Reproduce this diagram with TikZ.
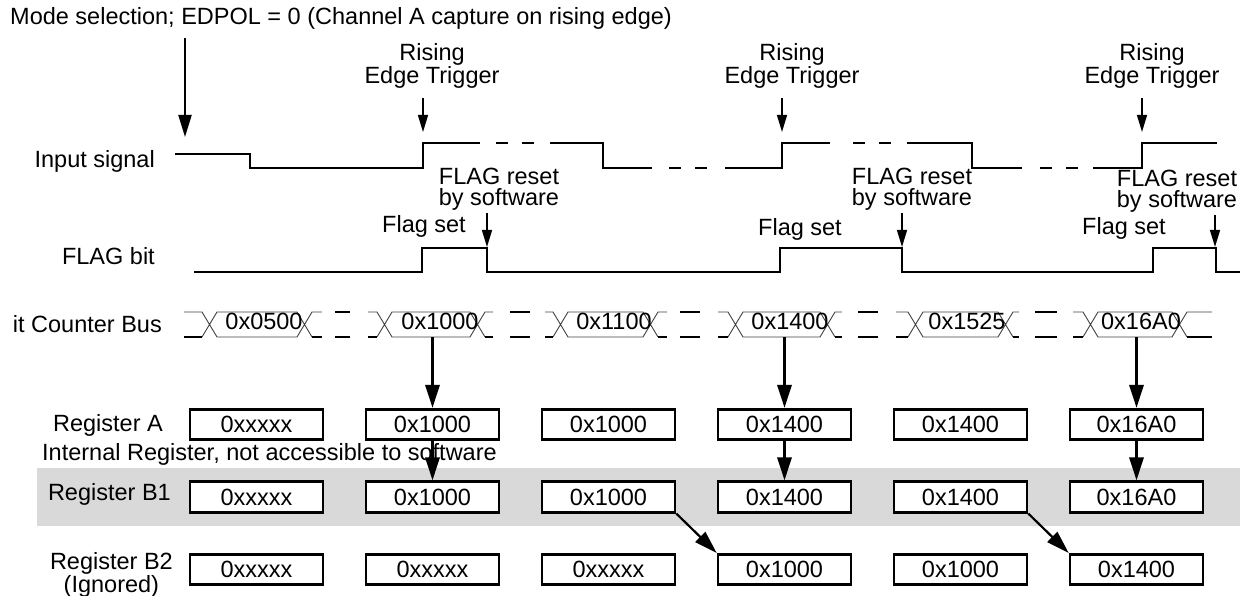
\documentclass[tikz,border=0pt]{standalone}
\usepackage{fontspec}
\setmainfont{Liberation Sans}
\usetikzlibrary{arrows.meta}
\tikzset{
  sig/.style={line width=2.8pt},
  lbl/.style={inner sep=0pt, font=\fontsize{23.5}{19}\selectfont},
  regbox/.style={lbl, draw, fill=white, line width=2.6pt, minimum width=133pt, minimum height=30.5pt},
  busline/.style={line width=0.9pt, black!75},
  busthick/.style={line width=2.6pt},
  thinarrow/.style={-{Triangle[length=17pt,width=10pt]}, line width=1.4pt},
  modearrow/.style={-{Triangle[length=22pt,width=13pt]}, line width=2pt},
  bigarrow/.style={-{Triangle[length=23pt,width=14pt]}, line width=3pt},
}

\begin{document}
\begin{tikzpicture}[x=1pt, y=-1pt]
\useasboundingbox (0,0) rectangle (1243,596);
% shaded band behind register B1
\fill[black!15] (37,468) rectangle (1240,526);

% row labels
\node[lbl, anchor=base west] (mode) at (10,25) {Mode selection; EDPOL = 0 (Channel A capture on rising edge)};
\node[lbl, anchor=base east] (lblin) at (155,168) {Input signal};
\node[lbl, anchor=base east] (lblflag) at (155,265) {FLAG bit};
\node[lbl, anchor=base east] (lblbus) at (162,332) {it Counter Bus};
\node[lbl, anchor=base east] (lblA) at (163,431) {Register A};
\node[lbl, anchor=base west] (lblint) at (42,460) {Internal Register, not accessible to software};
\node[lbl, anchor=base east] (lblB1) at (171,500) {Register B1};
\node[lbl, align=center, anchor=north east, font=\fontsize{23.5}{17.5}\selectfont] (lblB2) at (173,552) {Register B2\\(Ignored)};

% input signal
\draw[sig] (175,154) -- (250,154) -- (250,168) -- (423,168) -- (423,143) -- (480,143);
\draw[sig, dash pattern=on 12pt off 14pt] (496,143) -- (534,143);
\draw[sig] (550,143) -- (603,143) -- (603,168) -- (652,168);
\draw[sig, dash pattern=on 12pt off 14pt] (669,168) -- (707,168);
\draw[sig] (725,168) -- (782,168) -- (782,143) -- (830,143);
\draw[sig, dash pattern=on 12pt off 14pt] (853,143) -- (891,143);
\draw[sig] (907,143) -- (972,143) -- (972,168) -- (1022,168);
\draw[sig, dash pattern=on 12pt off 14pt] (1040,168) -- (1078,168);
\draw[sig] (1093,168) -- (1142,168) -- (1142,143) -- (1217,143);

\coordinate (modetip) at (185,137);
\draw[modearrow, shorten <=8pt] (mode.south -| modetip) -- (modetip);

% trigger labels
\node[lbl, align=center, anchor=north, font=\fontsize{23.5}{17}\selectfont] (trig1) at (432,43) {Rising\\Edge Trigger};
\node[lbl, align=center, anchor=north, font=\fontsize{23.5}{17}\selectfont] (trig2) at (792,43) {Rising\\Edge Trigger};
\node[lbl, align=center, anchor=north, font=\fontsize{23.5}{17}\selectfont] (trig3) at (1152,43) {Rising\\Edge Trigger};
\coordinate (rise1) at (423,132);
\coordinate (rise2) at (782,132);
\coordinate (rise3) at (1142,132);
\draw[thinarrow, shorten <=10pt] (trig1.south -| rise1) -- (rise1);
\draw[thinarrow, shorten <=10pt] (trig2.south -| rise2) -- (rise2);
\draw[thinarrow, shorten <=10pt] (trig3.south -| rise3) -- (rise3);

% FLAG bit
\draw[sig] (194,272) -- (422,272) -- (422,248) -- (487,248) -- (487,272) -- (780,272) -- (780,248) -- (902,248) -- (902,272) -- (1153,272) -- (1153,248) -- (1216,248) -- (1216,272) -- (1240,272);
\node[lbl, anchor=base west] (set1) at (382,233) {Flag set};
\node[lbl, anchor=base west] (set2) at (758,236) {Flag set};
\node[lbl, anchor=base west] (set3) at (1082,235) {Flag set};
\node[lbl, align=center, anchor=north, font=\fontsize{23.5}{21}\selectfont] (rst1) at (499,168) {FLAG reset\\by software};
\node[lbl, align=center, anchor=north, font=\fontsize{23.5}{21}\selectfont] (rst2) at (912,168) {FLAG reset\\by software};
\node[lbl, align=center, anchor=north, font=\fontsize{23.5}{21}\selectfont] (rst3) at (1177,170) {FLAG reset\\by software};
\coordinate (clr1) at (487,247);
\coordinate (clr2) at (902,247);
\coordinate (clr3) at (1215,247);
\draw[thinarrow, shorten <=2pt] (rst1.south -| clr1) -- (clr1);
\draw[thinarrow, shorten <=2pt] (rst2.south -| clr2) -- (clr2);
\draw[thinarrow, shorten <=2pt] (rst3.south -| clr3) -- (clr3);

% counter bus
\draw[busline] (184,312) -- (202,312) -- (217,337) -- (297,337) -- (312,312) -- (322,312) (184,337) -- (202,337) -- (217,312) -- (297,312) -- (312,337);
\draw[busthick] (184,337) -- (202,337) (312,337) -- (322,337) (335,312) -- (350,312) (335,337) -- (350,337);
\draw[busline] (368,312) -- (377,312) -- (392,337) -- (470,337) -- (485,312) -- (493,312) (377,337) -- (392,312) -- (470,312) -- (485,337);
\draw[busthick] (368,337) -- (377,337) (485,337) -- (493,337) (510,312) -- (530,312) (510,337) -- (530,337);
\draw[busline] (545,312) -- (553,312) -- (568,337) -- (643,337) -- (658,312) -- (667,312) (553,337) -- (568,312) -- (643,312) -- (658,337);
\draw[busthick] (545,337) -- (553,337) (658,337) -- (667,337) (680,312) -- (700,312) (680,337) -- (700,337);
\draw[busline] (718,312) -- (728,312) -- (743,337) -- (820,337) -- (835,312) -- (842,312) (728,337) -- (743,312) -- (820,312) -- (835,337);
\draw[busthick] (718,337) -- (728,337) (835,337) -- (842,337) (858,312) -- (878,312) (858,337) -- (878,337);
\draw[busline] (896,312) -- (908,312) -- (923,337) -- (998,337) -- (1013,312) -- (1019,312) (908,337) -- (923,312) -- (998,312) -- (1013,337);
\draw[busthick] (896,337) -- (908,337) (1013,337) -- (1019,337) (1035,312) -- (1057,312) (1035,337) -- (1057,337);
\draw[busline] (1073,312) -- (1083,312) -- (1098,337) -- (1172,337) -- (1187,312) -- (1212,312) (1083,337) -- (1098,312) -- (1172,312) -- (1187,337);
\draw[busthick] (1073,337) -- (1083,337) (1187,337) -- (1212,337);
\node[lbl, anchor=base] (v1) at (264,329) {0x0500};
\node[lbl, anchor=base] (v2) at (440,329) {0x1000};
\node[lbl, anchor=base] (v3) at (614,329) {0x1100};
\node[lbl, anchor=base] (v4) at (790,329) {0x1400};
\node[lbl, anchor=base] (v5) at (967,329) {0x1525};
\node[lbl, anchor=base] (v6) at (1141,329) {0x16A0};
\coordinate (busbot) at (0,337);

% registers
\node[regbox] (ra1) at (256.5,424.5) {0xxxxx};
\node[regbox] (ra2) at (432.5,424.5) {0x1000};
\node[regbox] (ra3) at (608.5,424.5) {0x1000};
\node[regbox] (ra4) at (784.5,424.5) {0x1400};
\node[regbox] (ra5) at (960.5,424.5) {0x1400};
\node[regbox] (ra6) at (1136.5,424.5) {0x16A0};
\node[regbox] (rb1) at (256.5,497) {0xxxxx};
\node[regbox] (rb2) at (432.5,497) {0x1000};
\node[regbox] (rb3) at (608.5,497) {0x1000};
\node[regbox] (rb4) at (784.5,497) {0x1400};
\node[regbox] (rb5) at (960.5,497) {0x1400};
\node[regbox] (rb6) at (1136.5,497) {0x16A0};
\node[regbox] (rc1) at (256.5,569.5) {0xxxxx};
\node[regbox] (rc2) at (432.5,569.5) {0xxxxx};
\node[regbox] (rc3) at (608.5,569.5) {0xxxxx};
\node[regbox] (rc4) at (784.5,569.5) {0x1000};
\node[regbox] (rc5) at (960.5,569.5) {0x1000};
\node[regbox] (rc6) at (1136.5,569.5) {0x1400};

\draw[bigarrow] (ra2.north |- busbot) -- (ra2.north);
\draw[bigarrow] (ra4.north |- busbot) -- (ra4.north);
\draw[bigarrow] (ra6.north |- busbot) -- (ra6.north);
\draw[bigarrow] (ra2.south) -- (rb2.north);
\draw[bigarrow] (ra4.south) -- (rb4.north);
\draw[bigarrow] (ra6.south) -- (rb6.north);
\draw[bigarrow, line width=2.2pt] (rb3.south east) -- (rc4.north west);
\draw[bigarrow, line width=2.2pt] (rb5.south east) -- (rc6.north west);
\end{tikzpicture}
\end{document}
